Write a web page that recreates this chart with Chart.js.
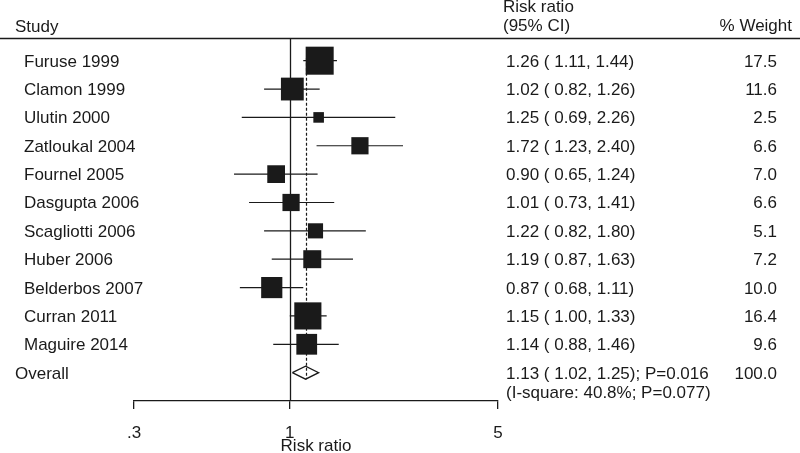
<!DOCTYPE html>
<html>
<head>
<meta charset="utf-8">
<script src="https://cdn.jsdelivr.net/npm/chart.js@4/dist/chart.umd.min.js"></script>
<style>
  html, body { margin: 0; padding: 0; background: #fff; }
  #wrap { width: 800px; height: 453px; }
</style>
</head>
<body>
<div id="wrap"><canvas id="forest" width="800" height="453"></canvas></div>
<script>
// study level data
const studies = ["Furuse 1999", "Clamon 1999", "Ulutin 2000", "Zatloukal 2004", "Fournel 2005",
  "Dasgupta 2006", "Scagliotti 2006", "Huber 2006", "Belderbos 2007", "Curran 2011", "Maguire 2014"];
const riskRatio = [1.26, 1.02, 1.25, 1.72, 0.90, 1.01, 1.22, 1.19, 0.87, 1.15, 1.14];
const ciLow     = [1.11, 0.82, 0.69, 1.23, 0.65, 0.73, 0.82, 0.87, 0.68, 1.00, 0.88];
const ciHigh    = [1.44, 1.26, 2.26, 2.40, 1.24, 1.41, 1.80, 1.63, 1.11, 1.33, 1.46];
const weights   = [17.5, 11.6, 2.5, 6.6, 7.0, 6.6, 5.1, 7.2, 10.0, 16.4, 9.6];

// pooled estimate
const overallRR = [1.13];
const overallCI = [1.02, 1.25];
const overallWeight = [100.0];
const overallP = ["0.016"];
const heterogeneity = ["40.8%", "0.077"];

const xTicks = [0.3, 1, 5];
const xTickLabels = [".3", "1", "5"];

const FONT = '"Liberation Sans", Arial, Helvetica, sans-serif';
const INK = '#1a1a1a';
const squareScale = 6.7;      // side of square in px per sqrt(weight)
const diamondHalf = 0.23;     // in row units
const overallRow = studies.length + 1;

const ciDatasets = studies.map((s, i) => ({
  type: 'scatter',
  showLine: true,
  data: [{ x: ciLow[i], y: i + 1 }, { x: ciHigh[i], y: i + 1 }],
  borderColor: INK,
  borderWidth: 1.2,
  pointRadius: 0,
  order: 3
}));

const squareDataset = {
  type: 'scatter',
  data: riskRatio.map((v, i) => ({ x: v, y: i + 1 })),
  pointStyle: 'rect',
  pointRadius: weights.map(w => squareScale * Math.sqrt(w) / Math.SQRT2),
  backgroundColor: INK,
  borderWidth: 0,
  pointBorderWidth: 0,
  order: 1
};

const diamondDataset = {
  type: 'scatter',
  showLine: true,
  data: [
    { x: overallCI[0], y: overallRow },
    { x: overallRR[0], y: overallRow - diamondHalf },
    { x: overallCI[1], y: overallRow },
    { x: overallRR[0], y: overallRow + diamondHalf },
    { x: overallCI[0], y: overallRow }
  ],
  borderColor: INK,
  borderWidth: 1.3,
  pointRadius: 0,
  fill: false,
  order: 2
};

// reference lines under the marks
const refLines = {
  id: 'refLines',
  beforeDatasetsDraw(chart) {
    const { ctx, scales: { x, y } } = chart;
    ctx.save();
    ctx.strokeStyle = INK;
    ctx.lineWidth = 1.3;
    const x1 = Math.round(x.getPixelForValue(1)) + 0.5;
    ctx.beginPath();
    ctx.moveTo(x1, y.top);
    ctx.lineTo(x1, y.bottom);
    ctx.stroke();

    const xo = Math.round(x.getPixelForValue(overallRR[0])) + 0.5;
    ctx.lineWidth = 1.2;
    ctx.setLineDash([3, 2]);
    ctx.beginPath();
    ctx.moveTo(xo, y.getPixelForValue(0.9));
    ctx.lineTo(xo, y.getPixelForValue(overallRow + diamondHalf));
    ctx.stroke();
    ctx.restore();
  }
};

// table text around the plot
const tableText = {
  id: 'tableText',
  afterDraw(chart) {
    const { ctx, scales: { y } } = chart;
    ctx.save();
    ctx.fillStyle = INK;
    ctx.strokeStyle = INK;
    ctx.font = '17px ' + FONT;
    ctx.textBaseline = 'alphabetic';

    ctx.lineWidth = 1.3;
    ctx.beginPath();
    ctx.moveTo(0, y.top + 0.5);
    ctx.lineTo(chart.width, y.top + 0.5);
    ctx.stroke();

    ctx.textAlign = 'left';
    ctx.fillText('Study', 15, 31.5);
    ctx.fillText('Risk ratio', 503, 12);
    ctx.fillText('(95% CI)', 503, 31);
    ctx.textAlign = 'right';
    ctx.fillText('% Weight', 792, 31);

    studies.forEach((s, i) => {
      const py = y.getPixelForValue(i + 1) + 6;
      ctx.textAlign = 'left';
      ctx.fillText(s, 24, py);
      ctx.fillText(riskRatio[i].toFixed(2) + ' ( ' + ciLow[i].toFixed(2) + ', ' + ciHigh[i].toFixed(2) + ')', 506, py);
      ctx.textAlign = 'right';
      ctx.fillText(weights[i].toFixed(1), 777, py);
    });

    const oy = y.getPixelForValue(overallRow) + 6;
    ctx.textAlign = 'left';
    ctx.fillText('Overall', 15, oy);
    ctx.fillText(overallRR[0].toFixed(2) + ' ( ' + overallCI[0].toFixed(2) + ', ' + overallCI[1].toFixed(2) + '); P=' + overallP[0], 506, oy);
    ctx.fillText('(I-square: ' + heterogeneity[0] + '; P=' + heterogeneity[1] + ')', 506, oy + 19);
    ctx.textAlign = 'right';
    ctx.fillText(overallWeight[0].toFixed(1), 777, oy);
    ctx.restore();
  }
};

new Chart(document.getElementById('forest'), {
  type: 'scatter',
  data: { datasets: [squareDataset, diamondDataset, ...ciDatasets] },
  options: {
    responsive: false,
    animation: false,
    events: [],
    devicePixelRatio: 1,
    layout: { padding: { left: 134, right: 302, top: 38, bottom: 0 } },
    plugins: { legend: { display: false }, tooltip: { enabled: false } },
    scales: {
      x: {
        type: 'logarithmic',
        min: 0.3,
        max: 5,
        afterBuildTicks: s => { s.ticks = xTicks.map(v => ({ value: v })); },
        afterFit: s => { s.height = 52; },
        ticks: {
          callback: (v, i) => xTickLabels[i],
          font: { size: 17, family: FONT },
          color: INK,
          padding: 14,
          maxRotation: 0,
          autoSkip: false
        },
        grid: { drawOnChartArea: false, drawTicks: true, tickLength: 8, color: INK, lineWidth: 1.3 },
        border: { display: true, color: INK, width: 1.3 },
        title: {
          display: true,
          text: 'Risk ratio',
          color: INK,
          font: { size: 17, family: FONT, lineHeight: 1 },
          padding: { top: 0, bottom: -2 }
        }
      },
      y: {
        type: 'linear',
        reverse: true,
        min: 0.2,
        max: 13,
        display: false
      }
    }
  },
  plugins: [refLines, tableText]
});
</script>
</body>
</html>
